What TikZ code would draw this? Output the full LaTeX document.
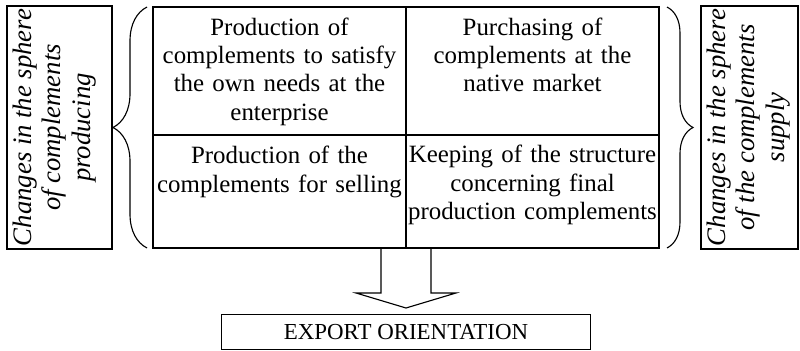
\documentclass[tikz,border=0pt]{standalone}
\usepackage{fontspec}
\setmainfont{Liberation Serif}
\usepackage{tikz}
\usetikzlibrary{positioning, calc, decorations.pathreplacing}
\tikzset{
    cellbox/.style={rectangle, draw=black, line width=0.8pt, outer sep=0pt,
                    minimum width=6.325cm},
    celltxt/.style={text width=7cm, align=center, inner sep=0pt,
                    font=\fontsize{17.7}{20.2}\selectfont},
    sidebox/.style={rectangle, draw=black, line width=0.8pt,
                    minimum height=6.075cm},
    sidetxt/.style={rotate=90, anchor=north, align=center, inner sep=0pt,
                    font=\fontsize{19}{21}\selectfont\itshape},
    expbox/.style={rectangle, draw=black, line width=0.8pt,
                   minimum width=9.225cm, minimum height=0.875cm,
                   inner sep=0pt, font=\fontsize{16.3}{18}\selectfont},
    brc/.style={decorate, line width=0.8pt},
    arr/.style={draw=black, line width=0.8pt, line join=miter}
}
\begin{document}
\begin{tikzpicture}
\useasboundingbox (0,0) rectangle (20,-8.775);
% ── Side boxes ────────────────────────────────────────────────────────
\node[sidebox, minimum width=2.625cm] at (1.4875,-3.1875) (prod) {};
\node[sidebox, minimum width=2.425cm] at (18.7375,-3.1875) (supp) {};
\node[sidetxt] at ([xshift=0.15cm]prod.west) (prodt)
    {Changes in the sphere\\of complements\\producing};
\node[sidetxt] at ([xshift=0.15cm]supp.west) (suppt)
    {Changes in the sphere\\of the complements\\supply};

% ── Grid of four cells ────────────────────────────────────────────────
\node[cellbox, minimum height=3.2cm] at (6.9875,-1.775) (own) {};
\node[cellbox, minimum height=3.2cm, right=0pt of own] (buy) {};
\node[cellbox, minimum height=2.825cm, below=0pt of own] (sell) {};
\node[cellbox, minimum height=2.825cm, right=0pt of sell] (keep) {};

\node[celltxt, below=0.26cm of own.north] (ownt)
    {Production of\\complements to satisfy\\the own needs at the\\enterprise};
\node[celltxt, below=0.26cm of buy.north] (buyt)
    {Purchasing of\\complements at the\\native market};
\node[celltxt, below=0.27cm of sell.north] (sellt)
    {Production of the\\complements for selling};
\node[celltxt, below=0.25cm of keep.north] (keept)
    {Keeping of the structure\\concerning final\\production complements};

% ── Braces ────────────────────────────────────────────────────────────
\draw[brc, decoration={brace, amplitude=0.85cm}]
    ([xshift=-0.15cm]sell.south west) -- ([xshift=-0.15cm]own.north west);
\draw[brc, decoration={brace, amplitude=0.65cm}]
    ([xshift=0.2cm]buy.north east) -- ([xshift=0.2cm]keep.south east);

% ── Block arrow + output ──────────────────────────────────────────────
\coordinate (tip) at ($(sell.south east)+(0,-1.5)$);
\draw[arr] ([xshift=-0.625cm]sell.south east) -- ++(0,-1.125) -- ++(-0.625,0)
    -- (tip) -- ++(1.25,0.375) -- ++(-0.625,0)
    -- ([xshift=0.625cm]sell.south east);
\node[expbox, below=0.15cm of tip] (exp) {EXPORT ORIENTATION};
\end{tikzpicture}
\end{document}
